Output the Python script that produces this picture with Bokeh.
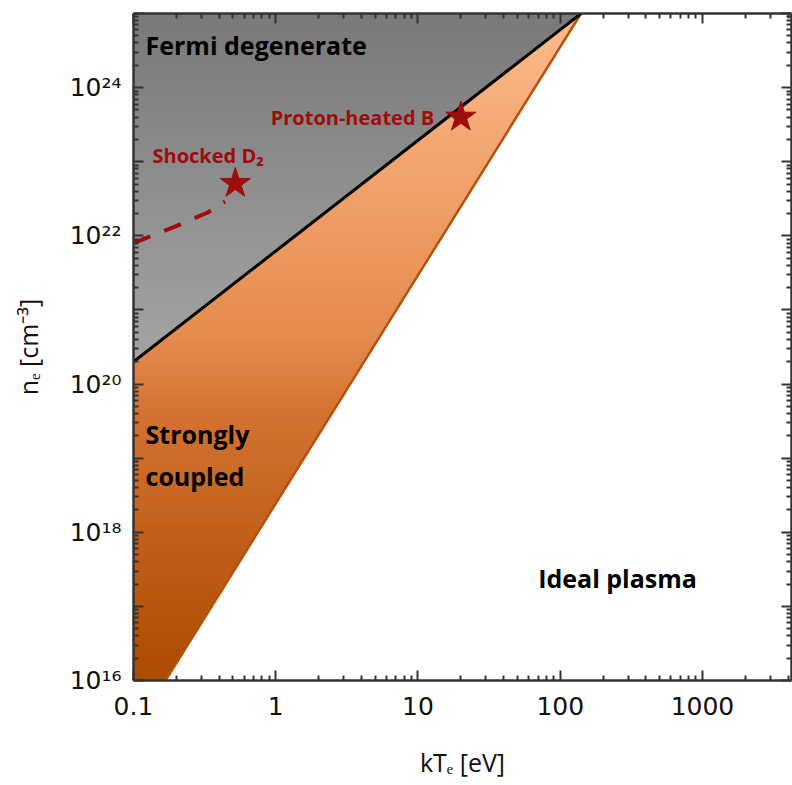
import numpy as np
from bokeh.plotting import figure
from bokeh.models import LogAxis, FixedTicker, CustomJSTickFormatter
from bokeh.core.properties import value
from bokeh.embed import file_html
from bokeh.resources import INLINE

# ---------------- data ----------------
fermi_T = [0.1, 140.0]          # Fermi-degeneracy boundary (eV)
fermi_n = [2.0e20, 1.0e25]      # (cm^-3)
coupling_T = [0.168, 140.0]     # strong-coupling boundary (eV)
coupling_n = [1.0e16, 1.0e25]
shock_T = [0.1, 0.19, 0.33, 0.44]
shock_n = [8.0e21, 1.3e22, 2.05e22, 2.9e22]
star_T = [0.52, 20.0]
star_n = [5.1e22, 4.0e23]
star_names = ["Shocked D\u2082", "Proton-heated B"]

x_ticks = [0.1, 1, 10, 100, 1000]
x_tick_labels = ["0.1", "1", "10", "100", "1000"]
y_ticks = [1e16, 1e17, 1e18, 1e19, 1e20, 1e21, 1e22, 1e23, 1e24, 1e25]
y_tick_labels = ["10\u00b9\u2076", "", "10\u00b9\u2078", "", "10\u00b2\u2070", "",
                 "10\u00b2\u00b2", "", "10\u00b2\u2074", ""]

# ---------------- styles ----------------
X_MIN, X_MAX = 0.1, 4225.0
Y_MIN, Y_MAX = 1e16, 1e25
gray_top, gray_bottom = (121, 121, 121), (164, 164, 164)
orange_stop_logn = [16.0, 16.27, 19.64, 20.59, 25.0]
orange_stop_rgb = [(173, 76, 0), (176, 78, 4), (212, 114, 50), (228, 138, 78), (253, 187, 138)]
RED = "#a00c0c"
LBL_FONT = "Open Sans"

lf = np.log10
lfn, lfT = lf(fermi_n), lf(fermi_T)
lcn, lcT = lf(coupling_n), lf(coupling_T)


def Tf(logn):
    return 10 ** np.interp(logn, lfn, lfT)


def Tc(logn):
    return 10 ** np.interp(logn, lcn, lcT)


def hexc(rgb):
    return "#%02x%02x%02x" % tuple(int(round(c)) for c in rgb)


def mix(a, b, t):
    return tuple(a[i] + (b[i] - a[i]) * t for i in range(3))


def orange_at(logn):
    return tuple(np.interp(logn, orange_stop_logn, [c[i] for c in orange_stop_rgb]) for i in range(3))


p = figure(frame_width=658, frame_height=667,
           x_axis_type="log", y_axis_type="log",
           x_range=(X_MIN, X_MAX), y_range=(Y_MIN, Y_MAX),
           output_backend="svg", toolbar_location=None,
           min_border_left=133, min_border_right=1, min_border_top=13, min_border_bottom=105,
           background_fill_color="white", border_fill_color="white")
p.grid.visible = False
p.outline_line_color = None

# gray (Fermi degenerate) region as gradient strips
logn_break = lfn[0]
top = lf(Y_MAX)
edges_g = np.linspace(logn_break, top, 60)
gx, gy, gc = [], [], []
for a, b in zip(edges_g[:-1], edges_g[1:]):
    gx.append([X_MIN, Tf(a), Tf(b), X_MIN])
    gy.append([10 ** a, 10 ** a, 10 ** b, 10 ** b])
    t = ((a + b) / 2 - logn_break) / (top - logn_break)
    gc.append(hexc(mix(gray_bottom, gray_top, t)))
p.patches(gx, gy, fill_color=gc, line_color=gc, line_width=1)

# orange (strongly coupled) region as gradient strips
edges_o = np.unique(np.concatenate([np.linspace(lf(Y_MIN), logn_break, 50),
                                    np.linspace(logn_break, top, 60)]))


def left_T(logn):
    return X_MIN if logn <= logn_break + 1e-9 else Tf(logn)


ox, oy, oc = [], [], []
for a, b in zip(edges_o[:-1], edges_o[1:]):
    ox.append([left_T(a), Tc(a), Tc(b), left_T(b)])
    oy.append([10 ** a, 10 ** a, 10 ** b, 10 ** b])
    oc.append(hexc(orange_at((a + b) / 2)))
p.patches(ox, oy, fill_color=oc, line_color=oc, line_width=1)

# boundaries
p.line(coupling_T, coupling_n, line_color="#b4520c", line_width=2.5)
p.line(fermi_T, fermi_n, line_color="black", line_width=3)
p.line(shock_T, shock_n, line_color=RED, line_width=4, line_dash="18 15")
p.scatter(star_T, star_n, marker="star", size=32, fill_color=RED, line_color=RED)

# labels
p.text([0.136], [10 ** 23.085], text=[star_names[0]], text_font=value(LBL_FONT), text_font_style="bold",
       text_font_size="20px", text_color=RED, text_baseline="middle", text_align="left")
p.text([13.0], [10 ** 23.6], text=[star_names[1]], text_font=value(LBL_FONT), text_font_style="bold",
       text_font_size="20px", text_color=RED, text_baseline="middle", text_align="right")
p.text([0.1215], [10 ** 24.58], text=["Fermi degenerate"], text_font=value(LBL_FONT), text_font_style="bold",
       text_font_size="25px", text_color="black", text_baseline="middle", text_align="left")
p.text([0.1215], [10 ** 19.04], text=["Strongly\ncoupled"], text_font=value(LBL_FONT), text_font_style="bold",
       text_font_size="25px", text_color="black", text_baseline="middle", text_align="left",
       text_line_height=1.25)
p.text([70.0], [10 ** 17.38], text=["Ideal plasma"], text_font=value(LBL_FONT), text_font_style="bold",
       text_font_size="25px", text_color="black", text_baseline="middle", text_align="left")

# axes
def minor_of(ticks):
    out = []
    for t in ticks:
        for k in range(2, 10):
            out.append(t * k)
    return out


FMT_CODE = """
const i = tvals.findIndex(t => Math.abs(Math.log10(t) - Math.log10(tick)) < 1e-6);
return i >= 0 ? tlabels[i] : "";"""
xfmt = CustomJSTickFormatter(args=dict(tvals=x_ticks, tlabels=x_tick_labels), code=FMT_CODE)
yfmt = CustomJSTickFormatter(args=dict(tvals=y_ticks, tlabels=y_tick_labels), code=FMT_CODE)
blank = CustomJSTickFormatter(code='return "";')
xt = FixedTicker(ticks=x_ticks, minor_ticks=minor_of(x_ticks))
yt = FixedTicker(ticks=y_ticks, minor_ticks=minor_of(y_ticks[:-1]))

AX = "#333333"


def style(ax):
    ax.axis_line_color = AX
    ax.axis_line_width = 2.5
    ax.major_tick_line_color = AX
    ax.minor_tick_line_color = AX
    ax.major_tick_line_width = 2
    ax.minor_tick_line_width = 2
    ax.major_tick_in = 10
    ax.major_tick_out = 0
    ax.minor_tick_in = 5
    ax.minor_tick_out = 0


xa = p.xaxis[0]
xa.ticker = xt
xa.formatter = xfmt
style(xa)
xa.major_label_text_font = "DejaVu Sans"
xa.major_label_text_font_size = "25px"
xa.major_label_text_color = "#111111"
xa.major_label_standoff = 16
xa.axis_label = "kT\u2091 [eV]"
xa.axis_label_text_font = LBL_FONT
xa.axis_label_text_font_style = "normal"
xa.axis_label_text_font_size = "25px"
xa.axis_label_text_color = "#111111"
xa.axis_label_standoff = 27

ya = p.yaxis[0]
ya.ticker = yt
ya.formatter = yfmt
style(ya)
ya.major_label_text_font = "DejaVu Sans"
ya.major_label_text_font_size = "25px"
ya.major_label_text_color = "#111111"
ya.major_label_standoff = 12
ya.axis_label = "n\u2091 [cm\u207b\u00b3]"
ya.axis_label_text_font = LBL_FONT
ya.axis_label_text_font_style = "normal"
ya.axis_label_text_font_size = "25px"
ya.axis_label_text_color = "#111111"
ya.axis_label_standoff = 22

top_ax = LogAxis(ticker=FixedTicker(ticks=x_ticks, minor_ticks=minor_of(x_ticks)), formatter=blank,
                 major_label_standoff=0)
style(top_ax)
p.add_layout(top_ax, "above")
right_ax = LogAxis(ticker=FixedTicker(ticks=y_ticks, minor_ticks=minor_of(y_ticks[:-1])), formatter=blank,
                   major_label_standoff=0)
style(right_ax)
p.add_layout(right_ax, "right")

open("out.html", "w").write(file_html(p, INLINE))
